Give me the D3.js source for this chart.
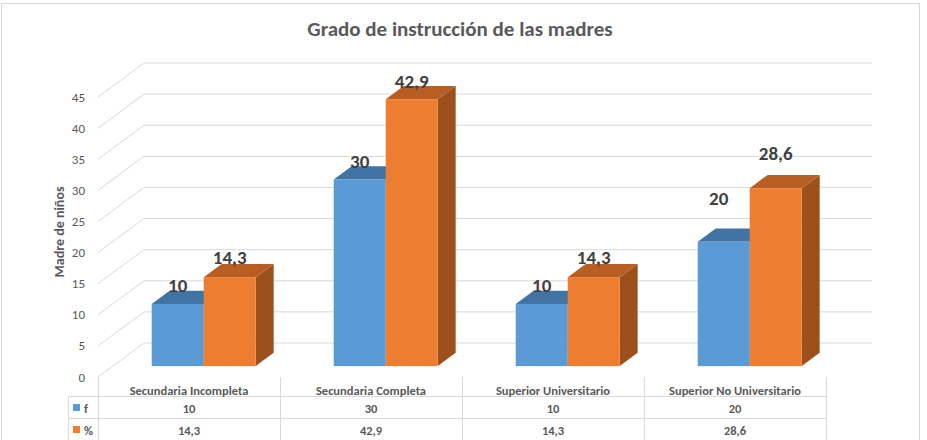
<!DOCTYPE html>
<html>
<head>
<meta charset="utf-8">
<script src="https://cdn.jsdelivr.net/npm/d3@7"></script>
<style>
  body { margin: 0; background: #fff; }
  svg text { font-family: Carlito, Lato, "Open Sans", sans-serif; }
</style>
</head>
<body>
<div id="chart"></div>
<script>
var width = 927, height = 440;

// data
var categories = ["Secundaria Incompleta", "Secundaria Completa", "Superior Universitario", "Superior No Universitario"];
var seriesNames = ["f", "%"];
var fValues = [10, 30, 10, 20];
var pctValues = [14.3, 42.9, 14.3, 28.6];
var yTicks = [0, 5, 10, 15, 20, 25, 30, 35, 40, 45];

var colors = {
  f: { front: "#5b9bd5", top: "#4274a3", side: "#3e6f9c" },
  "%": { front: "#ed7d31", top: "#b95e22", side: "#9c501c" }
};

// 3d wall geometry
var depthX = 46, depthY = 34;
var z0 = 0.32, z1 = 0.71;   // bar depth inside the floor
var barW = 52;

var svg = d3.select("#chart").append("svg")
    .attr("width", width)
    .attr("height", height);

// chart border
svg.append("rect")
    .attr("x", 1.5).attr("y", 3.5)
    .attr("width", 918).attr("height", 450)
    .attr("fill", "none").attr("stroke", "#d9d9d9");

var x = d3.scaleBand().domain(categories).range([98, 826]);
var y = d3.scaleLinear().domain([0, 45]).range([377, 97]);

function px(xf, z) { return xf + z * depthX; }
function py(v, z) { return y(v) - z * depthY; }

// gridlines: side wall diagonal + back wall
var grid = svg.append("g").attr("stroke", "#d9d9d9").attr("fill", "none");
yTicks.forEach(function(t) {
  grid.append("path")
    .attr("d", "M" + px(98, 0) + "," + py(t, 0) + "L" + px(98, 1) + "," + py(t, 1) + "L" + px(826, 1) + "," + py(t, 1));
});

// tick labels
svg.append("g").selectAll("text")
  .data(yTicks)
  .join("text")
  .attr("x", 85)
  .attr("y", function(d) { return y(d) + 4.5; })
  .attr("text-anchor", "end")
  .attr("font-size", 13)
  .attr("fill", "#595959")
  .text(function(d) { return d; });

// axis title
svg.append("text")
  .attr("transform", "translate(64,232) rotate(-90)")
  .attr("text-anchor", "middle")
  .attr("font-size", 14)
  .attr("font-weight", "bold")
  .attr("fill", "#595959")
  .text("Madre de niños");

// title
svg.append("text")
  .attr("x", 460).attr("y", 36)
  .attr("text-anchor", "middle")
  .attr("font-size", 21)
  .attr("font-weight", "bold")
  .attr("fill", "#595959")
  .text("Grado de instrucción de las madres");

// bars
var labelShift = [[19, 20], [18, 18], [19, 20], [44, 35]];
var bars = svg.append("g");
categories.forEach(function(c, i) {
  var start = x(c) + (x.bandwidth() - 2 * barW) / 2;
  [fValues[i], pctValues[i]].forEach(function(v, s) {
    var col = colors[seriesNames[s]];
    var x0 = start + s * barW, x1 = x0 + barW;
    var g = bars.append("g");
    // side
    g.append("path")
      .attr("d", "M" + px(x1, z0) + "," + py(v, z0) + "L" + px(x1, z1) + "," + py(v, z1) +
                 "L" + px(x1, z1) + "," + py(0, z1) + "L" + px(x1, z0) + "," + py(0, z0) + "Z")
      .attr("fill", col.side);
    // top
    g.append("path")
      .attr("d", "M" + px(x0, z0) + "," + py(v, z0) + "L" + px(x0, z1) + "," + py(v, z1) +
                 "L" + px(x1, z1) + "," + py(v, z1) + "L" + px(x1, z0) + "," + py(v, z0) + "Z")
      .attr("fill", col.top);
    // front
    g.append("rect")
      .attr("x", px(x0, z0)).attr("y", py(v, z0))
      .attr("width", barW).attr("height", py(0, z0) - py(v, z0))
      .attr("fill", col.front);
    // value label
    g.append("text")
      .attr("x", px(x0, z0) + barW / 2 - (i == 3 && s == 0 ? 5 : 0))
      .attr("y", py(v, z0) - labelShift[i][s] + 7)
      .attr("text-anchor", "middle")
      .attr("font-size", 19)
      .attr("font-weight", "bold")
      .attr("fill", "#404040")
      .text(String(v).replace(".", ","));
  });
});

// data table
var table = svg.append("g");
var lines = table.append("g").attr("stroke", "#d9d9d9");
// floor front edge going down into the table
lines.append("line").attr("x1", 98.5).attr("x2", 98.5).attr("y1", 377).attr("y2", 440);
categories.forEach(function(c) {
  lines.append("line")
    .attr("x1", x(c) + x.bandwidth() + 0.5).attr("x2", x(c) + x.bandwidth() + 0.5)
    .attr("y1", 377).attr("y2", 440);
});
lines.append("line").attr("x1", 68.5).attr("x2", 68.5).attr("y1", 396).attr("y2", 440);
[396.5, 418.5].forEach(function(h) {
  lines.append("line").attr("x1", 68).attr("x2", 826).attr("y1", h).attr("y2", h);
});

var rowY = [390, 408, 430];
table.selectAll(".hdr")
  .data(categories)
  .join("text")
  .attr("x", function(d) { return x(d) + x.bandwidth() / 2; })
  .attr("y", rowY[0] + 4.5)
  .attr("text-anchor", "middle")
  .attr("font-size", 12.5)
  .attr("font-weight", 600)
  .attr("fill", "#595959")
  .text(function(d) { return d; });

[fValues, pctValues].forEach(function(vals, s) {
  var ry = rowY[s + 1];
  table.append("rect")
    .attr("x", 73).attr("y", ry - 4)
    .attr("width", 7).attr("height", 7)
    .attr("fill", colors[seriesNames[s]].front);
  table.append("text")
    .attr("x", 84).attr("y", ry + 4.5)
    .attr("font-size", 12.5)
    .attr("font-weight", 600)
    .attr("fill", "#595959")
    .text(seriesNames[s]);
  table.selectAll(null)
    .data(vals)
    .join("text")
    .attr("x", function(d, i) { return x(categories[i]) + x.bandwidth() / 2; })
    .attr("y", ry + 4.5)
    .attr("text-anchor", "middle")
    .attr("font-size", 12.5)
    .attr("font-weight", 600)
    .attr("fill", "#595959")
    .text(function(d) { return String(d).replace(".", ","); });
});
</script>
</body>
</html>
